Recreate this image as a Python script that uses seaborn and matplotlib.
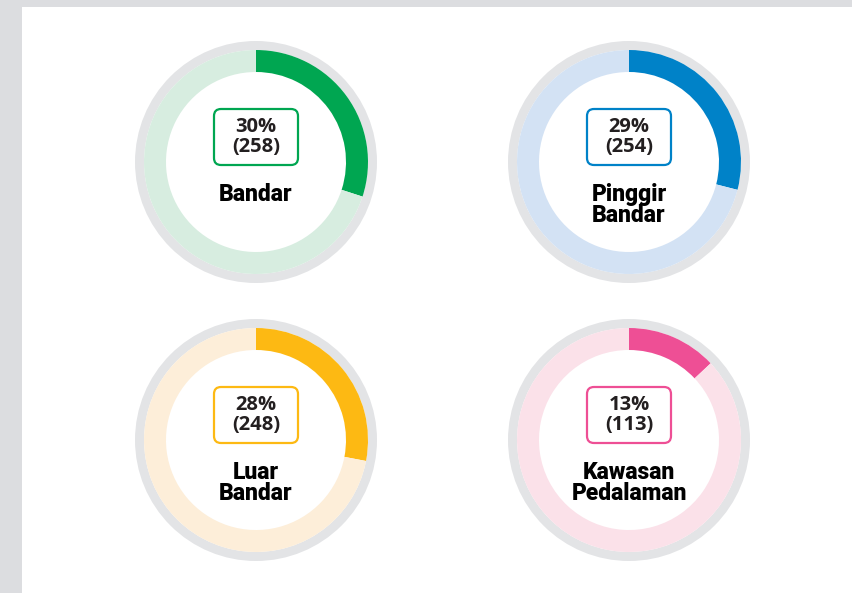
import matplotlib
matplotlib.use("Agg")
import matplotlib.pyplot as plt
from matplotlib.patches import FancyBboxPatch, Rectangle, Circle
import seaborn as sns

sns.set_theme(style="white")
plt.rcParams['font.family'] = ['Open Sans', 'DejaVu Sans']

# ---- data ----
categories = ["Bandar", "Pinggir\nBandar", "Luar\nBandar", "Kawasan\nPedalaman"]
percents = [30, 29, 28, 13]
counts = [258, 254, 248, 113]
colors = ["#00a651", "#0082c8", "#fdb913", "#ee4f95"]
light_colors = ["#d7ede0", "#d3e2f4", "#fdeed9", "#fbe1e9"]

# ---- layout (pixels) ----
W, H = 852, 593
centers = [(256, 162), (629, 162), (256, 440), (629, 440)]
R_GRAY = 121
R_OUT = 112
RING_W = 22

fig = plt.figure(figsize=(W / 100, H / 100), dpi=100)
fig.patch.set_facecolor("#dcdde0")
ax = fig.add_axes([0, 0, 1, 1])

# white panel
ax.add_patch(Rectangle((22, 0), W - 22, H - 7, facecolor="white", edgecolor="none", zorder=0))

for cat, p, n, c, lc, (cx, cy_px) in zip(categories, percents, counts, colors, light_colors, centers):
    cy = H - cy_px
    ax.add_patch(Circle((cx, cy), R_GRAY, facecolor="#e3e4e6", edgecolor="none", zorder=1))
    ax.add_patch(Circle((cx, cy), R_OUT, facecolor="white", edgecolor="none", zorder=1.5))
    ax.pie([p, 100 - p], colors=[c, lc], startangle=90, counterclock=False,
           center=(cx, cy), radius=R_OUT,
           wedgeprops=dict(width=RING_W, edgecolor="none", linewidth=0, zorder=2),
           frame=True)
    # box
    bw, bh = 84, 56
    by = H - (cy_px - 25)
    ax.add_patch(FancyBboxPatch((cx - bw / 2 + 7, by - bh / 2 + 7), bw - 14, bh - 14,
                                boxstyle="round,pad=7", facecolor="white",
                                edgecolor=c, linewidth=1.6, zorder=5))
    ax.text(cx, by + 10, f"{p}%", ha="center", va="center", fontsize=14.5,
            fontweight="bold", color="#231f20", zorder=6)
    ax.text(cx, by - 10, f"({n})", ha="center", va="center", fontsize=14.5,
            fontweight="bold", color="#231f20", zorder=6)
    for i, line in enumerate(cat.split("\n")):
        ax.text(cx, H - (cy_px + 30 + 21 * i), line, ha="center", va="center_baseline",
                fontsize=16.5, fontweight="heavy", family=["Roboto", "DejaVu Sans"],
                color="black", zorder=6)

ax.set_xlim(0, W)
ax.set_ylim(0, H)
ax.set_aspect("equal")
ax.axis("off")
fig.savefig("out.png", dpi=100, facecolor=fig.get_facecolor())
